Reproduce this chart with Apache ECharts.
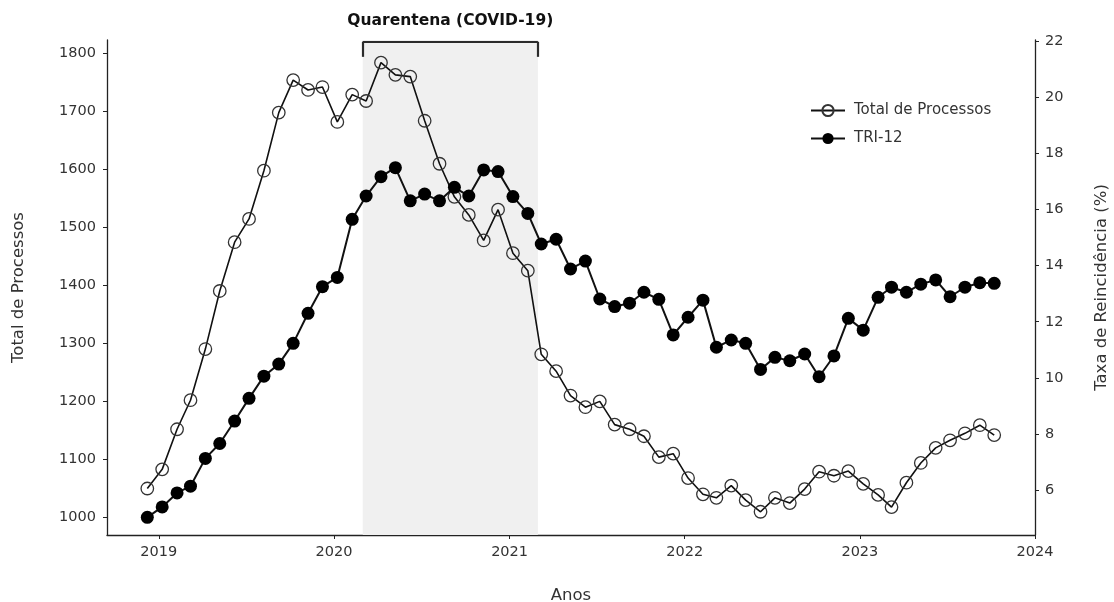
<!DOCTYPE html>
<html>
<head>
<meta charset="utf-8">
<script src="https://cdn.jsdelivr.net/npm/echarts@6/dist/echarts.min.js"></script>
<style>
  html, body { margin: 0; padding: 0; background: #ffffff; }
  #chart { width: 1114px; height: 602px; }
</style>
</head>
<body>
<div id="chart"></div>
<script>
// Monthly series, December 2018 to October 2023
const firstMonth = { year: 2018, month: 12 };
const sampleDay = '08';

const totalProcessos = [
  1050,
  1083, 1152, 1202, 1290, 1390, 1474, 1514, 1597, 1697, 1753, 1736, 1741,
  1681, 1728, 1717, 1783, 1762, 1759, 1683, 1609, 1552, 1521, 1477, 1530,
  1455, 1425, 1281, 1252, 1210, 1190, 1200, 1160, 1152, 1140, 1104, 1110,
  1068, 1040, 1034, 1055, 1030, 1010, 1034, 1025, 1049, 1079, 1072, 1080,
  1058, 1039, 1018, 1060, 1094, 1120, 1133, 1145, 1159, 1142
];

const tri12 = [
  5.03,
  5.40, 5.90, 6.14, 7.13, 7.66, 8.46, 9.27, 10.06, 10.49, 11.23, 12.30, 13.25,
  13.58, 15.65, 16.48, 17.17, 17.49, 16.31, 16.55, 16.31, 16.79, 16.48, 17.41, 17.35,
  16.46, 15.86, 14.77, 14.94, 13.88, 14.16, 12.81, 12.54, 12.66, 13.05, 12.80, 11.53,
  12.16, 12.77, 11.09, 11.35, 11.23, 10.30, 10.73, 10.61, 10.85, 10.04, 10.78, 12.12,
  11.70, 12.87, 13.23, 13.05, 13.34, 13.49, 12.89, 13.23, 13.39, 13.37
];

const yearTicks = ['2019-01-01', '2020-01-01', '2021-01-01', '2022-01-01', '2023-01-01', '2024-01-01'];
const leftTicks = [1000, 1100, 1200, 1300, 1400, 1500, 1600, 1700, 1800];
const rightTicks = [6, 8, 10, 12, 14, 16, 18, 20, 22];

const quarantine = ['2020-03-01', '2021-03-01'];
const quarantineLabel = 'Quarentena (COVID-19)';

const seriesNames = ['Total de Processos', 'TRI-12'];

// date string for each monthly sample
const months = totalProcessos.map((_, i) => {
  const m0 = firstMonth.month - 1 + i;
  const y = firstMonth.year + Math.floor(m0 / 12);
  const m = (m0 % 12) + 1;
  return y + '-' + String(m).padStart(2, '0') + '-' + sampleDay;
});

const FONT = 'DejaVu Sans';
const INK = '#222222';
const TEXT = '#333333';

// bracket above the quarantine band, in left-axis units
const bracketTop = 1819;
const bracketFoot = 1793;

const chart = echarts.init(document.getElementById('chart'), null, { renderer: 'canvas' });

chart.setOption({
  animation: false,
  backgroundColor: '#ffffff',
  textStyle: { fontFamily: FONT },
  grid: { left: 107, right: 79, top: 40, bottom: 67, containLabel: false, outerBoundsMode: 'none' },
  legend: {
    orient: 'vertical',
    left: 805,
    top: 98,
    itemWidth: 34,
    itemHeight: 14,
    itemGap: 13,
    textStyle: { fontFamily: FONT, fontSize: 15, color: TEXT, padding: [0, 0, 0, 4] },
    data: seriesNames
  },
  xAxis: {
    type: 'time',
    min: '2018-09-15',
    max: '2024-01-01',
    name: 'Anos',
    nameLocation: 'middle',
    nameGap: 52,
    nameTextStyle: { fontFamily: FONT, fontSize: 16.5, color: TEXT },
    axisLine: { show: true, lineStyle: { color: INK, width: 1.3 } },
    axisTick: { show: true, length: 4, inside: false, customValues: yearTicks, lineStyle: { color: INK } },
    axisLabel: {
      customValues: yearTicks,
      formatter: '{yyyy}',
      fontFamily: FONT, fontSize: 14.5, color: TEXT, margin: 10
    },
    splitLine: { show: false }
  },
  yAxis: [
    {
      type: 'value',
      position: 'left',
      min: 970,
      max: 1822,
      name: 'Total de Processos',
      nameLocation: 'middle',
      nameRotate: 90,
      nameGap: 80,
      nameTextStyle: { fontFamily: FONT, fontSize: 16.5, color: TEXT },
      axisLine: { show: true, lineStyle: { color: INK, width: 1.3 } },
      axisTick: { show: true, length: 4, customValues: leftTicks, lineStyle: { color: INK } },
      axisLabel: {
        customValues: leftTicks,
        formatter: (v) => String(v),
        fontFamily: FONT, fontSize: 14.5, color: TEXT, margin: 11
      },
      splitLine: { show: false }
    },
    {
      type: 'value',
      position: 'right',
      min: 4.4,
      max: 22.04,
      name: 'Taxa de Reincidência (%)',
      nameLocation: 'middle',
      nameRotate: 90,
      nameGap: 58,
      nameTextStyle: { fontFamily: FONT, fontSize: 16.5, color: TEXT },
      axisLine: { show: true, lineStyle: { color: INK, width: 1.3 } },
      axisTick: { show: true, length: 4, customValues: rightTicks, lineStyle: { color: INK } },
      axisLabel: {
        customValues: rightTicks,
        formatter: (v) => String(v),
        fontFamily: FONT, fontSize: 14.5, color: TEXT, margin: 10
      },
      splitLine: { show: false }
    }
  ],
  series: [
    {
      name: seriesNames[0],
      type: 'line',
      yAxisIndex: 0,
      data: months.map((d, i) => [d, totalProcessos[i]]),
      symbol: 'circle',
      symbolSize: 12.5,
      showAllSymbol: true,
      lineStyle: { color: '#111111', width: 1.6 },
      itemStyle: { color: 'rgba(255,255,255,0)', borderColor: '#333333', borderWidth: 1.3 },
      z: 3,
      markArea: {
        silent: true,
        itemStyle: { color: '#f0f0f0' },
        data: [[{ xAxis: quarantine[0] }, { xAxis: quarantine[1] }]]
      },
      markLine: {
        silent: true,
        symbol: ['none', 'none'],
        lineStyle: { color: '#2b2b2b', width: 2.2, type: 'solid' },
        label: { show: false },
        data: [
          [
            { coord: [quarantine[0], bracketTop] },
            {
              coord: [quarantine[1], bracketTop],
              label: {
                show: true,
                position: 'middle',
                distance: 13,
                formatter: quarantineLabel,
                fontFamily: FONT,
                fontSize: 15.5,
                fontWeight: 'bold',
                color: '#111111'
              }
            }
          ],
          [{ coord: [quarantine[0], bracketTop] }, { coord: [quarantine[0], bracketFoot] }],
          [{ coord: [quarantine[1], bracketTop] }, { coord: [quarantine[1], bracketFoot] }]
        ]
      }
    },
    {
      name: seriesNames[1],
      type: 'line',
      yAxisIndex: 1,
      data: months.map((d, i) => [d, tri12[i]]),
      symbol: 'circle',
      symbolSize: 13,
      showAllSymbol: true,
      lineStyle: { color: '#111111', width: 2 },
      itemStyle: { color: '#000000', borderColor: '#000000', borderWidth: 0 },
      z: 4
    }
  ]
});
</script>
</body>
</html>
